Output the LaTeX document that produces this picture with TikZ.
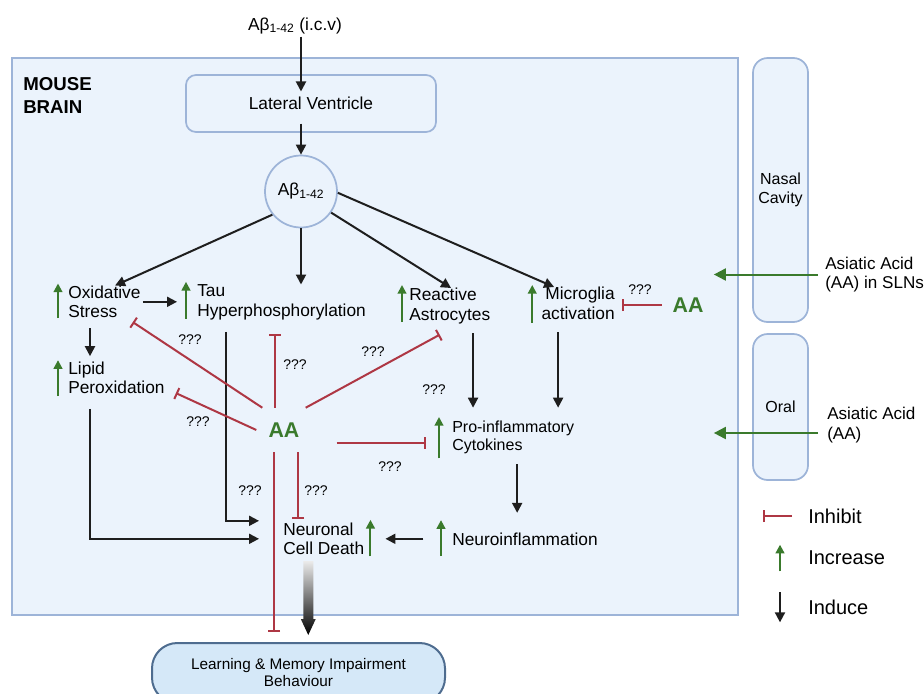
\documentclass[tikz,border=0pt]{standalone}
\usepackage{fontspec}
\setmainfont{Liberation Sans}
\usetikzlibrary{arrows.meta}

\definecolor{inkc}{HTML}{1E1E1E}
\definecolor{inhc}{HTML}{AE3744}
\definecolor{incc}{HTML}{3A7A2C}
\definecolor{brainfill}{HTML}{EBF3FC}
\definecolor{brainline}{HTML}{9DB4D8}
\definecolor{lmfill}{HTML}{D5E8F8}
\definecolor{lmline}{HTML}{4E6C8F}

\tikzset{
  lbl/.style={inner sep=0pt, align=left, font=\fontsize{13}{14.5}\selectfont},
  qq/.style={inner sep=0pt, font=\fontsize{10.5}{12}\selectfont},
  legtx/.style={anchor=west, inner sep=0pt, font=\fontsize{15}{17}\selectfont},
  ind/.style={draw=inkc, line width=1.5pt, -{Triangle[width=7.5pt,length=7.5pt]}},
  inh/.style={draw=inhc, line width=1.5pt, -{Bar[width=9pt,line width=1.5pt]}},
  incr/.style={draw=incc, line width=1.5pt, -{Triangle[width=6.5pt,length=6.5pt]}},
  feed/.style={draw=incc, line width=1.5pt, -{Triangle[width=9pt,length=9pt]}},
  softbox/.style={draw=brainline, fill=brainfill, line width=1.3pt, inner sep=0pt},
  aatx/.style={text=incc, font=\fontsize{16}{18}\selectfont\bfseries},
}

\begin{document}
\begin{tikzpicture}[x=0.75pt,y=0.75pt,yscale=-1,xscale=1]
        \useasboundingbox (0,0) rectangle (924,693);
        \clip (0,0) rectangle (924,693);

        %Shape: Rectangle [brain]
        \node[softbox, minimum width=544.5pt, minimum height=417.75pt] (brain) at (375,336.5) {};
        %Shape: Rounded Rect [side boxes]
        \node[softbox, rounded corners=11pt, minimum width=41.25pt, minimum height=198pt, align=center, font=\fontsize{12}{14}\selectfont] (nasal) at (780.5,190) {Nasal\\Cavity};
        \node[softbox, rounded corners=11pt, minimum width=41.25pt, minimum height=109.5pt, font=\fontsize{12}{14}\selectfont] (oral) at (780.5,407) {Oral};
        \node[softbox, rounded corners=7.5pt, minimum width=187.5pt, minimum height=42.75pt, font=\fontsize{13}{14.5}\selectfont] (lv) at (311,103.5) {Lateral Ventricle};
        \node[softbox, circle, minimum size=54pt, font=\fontsize{13}{14.5}\selectfont] (abeta) at (301,191.5) {Aβ\textsubscript{1-42}};
        \node[draw=lmline, fill=lmfill, line width=1.5pt, rounded corners=19pt, minimum width=219.75pt, minimum height=45pt, align=center, font=\fontsize{11.5}{12.75}\selectfont] (lm) at (298.5,673) {Learning \& Memory Impairment\\Behaviour};

        % Text Node
        \node[anchor=base, inner sep=2pt, font=\fontsize{13}{14.5}\selectfont] (inj) at (295,30) {Aβ\textsubscript{1-42} (i.c.v)};
        % Text Node
        \node[anchor=north west, inner sep=0pt, align=left, font=\fontsize{14}{17.25}\selectfont\bfseries] (title) at (23,77) {MOUSE\\BRAIN};
        % Text Node
        \node[lbl, anchor=north west] (ox) at (68,285.5) {Oxidative\\Stress};
        % Text Node
        \node[lbl, anchor=north west] (tau) at (197,284.5) {Tau\\Hyperphosphorylation};
        % Text Node
        \node[lbl, anchor=north west] (ra) at (409,288) {Reactive\\Astrocytes};
        % Text Node
        \node[lbl, anchor=north east, align=right] (mg) at (615,287) {Microglia\\activation};
        % Text Node
        \node[lbl, anchor=north west] (lp) at (68,361.5) {Lipid\\Peroxidation};
        % Text Node
        \node[lbl, anchor=north west, font=\fontsize{12}{13.5}\selectfont] (cy) at (452,421) {Pro-inflammatory\\Cytokines};
        % Text Node
        \node[lbl, anchor=base west] (ni) at (452,545) {Neuroinflammation};
        % Text Node
        \node[lbl, anchor=north west] (nd) at (283,522.5) {Neuronal\\Cell Death};
        % Text Node
        \node[aatx, inner xsep=9pt, inner ysep=11pt] (aa) at (284,430) {AA};
        % Text Node
        \node[aatx, inner sep=3pt] (aam) at (688,305) {AA};
        % Text Node
        \node[lbl, anchor=west, font=\fontsize{12.8}{14.5}\selectfont] (nastx) at (825,274.5) {Asiatic Acid\\(AA) in SLNs};
        % Text Node
        \node[lbl, anchor=west, font=\fontsize{12.8}{14.5}\selectfont] (oraltx) at (827,425) {Asiatic Acid\\(AA)};

        % Text Node
        \node[qq] (qox) at (190,340) {???};
        \node[qq] (qtau) at (295,365) {???};
        \node[qq] (qra) at (373,352) {???};
        \node[qq] (qra2) at (434,390) {???};
        \node[qq] (qlp) at (198,422) {???};
        \node[qq] (qcy) at (390,467) {???};
        \node[qq] (qlm) at (250,491) {???};
        \node[qq] (qnd) at (316,491) {???};
        \node[qq] (qmg) at (640,290) {???};

        %Straight Lines
        \draw[ind] (inj.south -| abeta) -- ([yshift=13pt]lv.north -| abeta);
        \draw[ind] ([yshift=-7pt]lv.south -| abeta) -- (abeta);
        \draw[ind] (abeta.219) -- ([xshift=8pt]ox.north);
        \draw[ind] (abeta) -- (abeta |- tau.north);
        \draw[ind] (abeta.-35) -- ([xshift=1pt]ra.north);
        \draw[ind] (abeta.-2) -- ([xshift=-18pt]mg.north);
        \draw[ind] ([xshift=1.5pt]ox.east) -- ([xshift=-15pt]ox.east -| tau.west);
        \draw[ind] ([xshift=16.5pt,yshift=7.5pt]ox.south west) -- ([xshift=16.5pt,yshift=-4pt]lp.north west);
        \draw[ind] ([xshift=21.75pt,yshift=9pt]tau.south west) |- ([xshift=-18pt,yshift=-13.5pt]nd.west);
        \draw[ind] ([xshift=16.5pt,yshift=11pt]lp.south west) |- ([xshift=-18pt]nd.west);
        \draw[ind] ([xshift=17.5pt,yshift=7pt]ra.south) -- ([xshift=17.5pt,yshift=-10pt]ra.south |- cy.north);
        \draw[ind] ([xshift=-15pt,yshift=9.5pt]mg.south) -- ([xshift=-15pt,yshift=-10pt]mg.south |- cy.north);
        \draw[ind] ([xshift=3pt,yshift=7.5pt]cy.south) -- ([xshift=3pt,yshift=-14.5pt]cy.south |- ni.north);
        \draw[ind] ([xshift=-21.5pt]ni.west) -- ([xshift=15.75pt]ni.west -| nd.east);

        %Straight Lines [inhibit]
        \draw[inh] ([xshift=4.5pt]aa.north west) -- ([xshift=-6pt,yshift=3pt]ox.south east);
        \draw[inh] (aa.west) -- ([xshift=8.25pt,yshift=-0.75pt]lp.south east);
        \draw[inh] ([xshift=-6.75pt]aa.north) -- ([xshift=-6.75pt,yshift=10.75pt]aa.north |- tau.south);
        \draw[inh] ([xshift=-4.5pt]aa.north east) -- ([xshift=-7.5pt,yshift=8pt]ra.south);
        \coordinate (aacy) at ([xshift=18.75pt,yshift=9.75pt]aa.east);
        \draw[inh] (aacy) -- ([xshift=-19.5pt]aacy -| cy.west);
        \draw[inh] ([xshift=10.5pt]aa.south) -- ([xshift=10.5pt,yshift=-2.6pt]aa.south |- nd.north);
        \draw[inh] ([xshift=-7.5pt]aa.south) -- ([xshift=-7.5pt,yshift=-7.5pt]aa.south |- lm.north);
        \draw[inh] ([xshift=-5pt]aam.west) -- ([xshift=5.25pt]aam.west -| mg.east);

        %Straight Lines [increase]
        \draw[incr] ([xshift=-7.5pt]ox.south west) -- ([xshift=-7.5pt,yshift=-1.5pt]ox.north west);
        \draw[incr] ([xshift=-8.25pt,yshift=-1pt]tau.south west) -- ([xshift=-8.25pt,yshift=-2pt]tau.north west);
        \draw[incr] ([xshift=-5.25pt,yshift=-1.5pt]ra.south west) -- ([xshift=-5.25pt,yshift=-2.25pt]ra.north west);
        \draw[incr] ([xshift=-6.75pt,yshift=2.25pt]mg.south west) -- ([xshift=-6.75pt,yshift=-1.5pt]mg.north west);
        \draw[incr] ([xshift=-7.5pt,yshift=1.5pt]lp.south west) -- ([xshift=-7.5pt,yshift=-1pt]lp.north west);
        \draw[incr] ([xshift=-9.75pt,yshift=3pt]cy.south west) -- ([xshift=-9.75pt,yshift=-3pt]cy.north west);
        \draw[incr] ([xshift=-8.25pt,yshift=13pt]ni.west) -- ([xshift=-8.25pt,yshift=-14pt]ni.west);
        \draw[incr] ([xshift=4.5pt,yshift=1pt]nd.south east) -- ([xshift=4.5pt,yshift=-2pt]nd.north east);

        %Straight Lines [routes]
        \draw[feed] ([xshift=-5.25pt]nastx.west) -- ([xshift=-18.75pt]nastx.west -| brain.east);
        \draw[feed] ([xshift=-6.75pt,yshift=6pt]oraltx.west) -- ([xshift=-18.75pt,yshift=6pt]oraltx.west -| brain.east);

        %Shape: Arrow [gradient]
        \coordinate (gtop) at ([xshift=-11.6pt,yshift=4.5pt]nd.south);
        \coordinate (gtip) at ([yshift=-5.25pt]gtop |- lm.north);
        \shade[top color=black!8, middle color=black!85, bottom color=black] ([xshift=-3.75pt]gtop) -- ([xshift=-3.75pt,yshift=-12pt]gtip) -- ([xshift=-5.6pt,yshift=-12pt]gtip) -- (gtip) -- ([xshift=5.6pt,yshift=-12pt]gtip) -- ([xshift=3.75pt,yshift=-12pt]gtip) -- ([xshift=3.75pt]gtop) -- cycle;

        % Legend
        \node[legtx] (linh) at (808,516) {Inhibit};
        \node[legtx] (linc) at (808,558) {Increase};
        \node[legtx] (lind) at (808,607) {Induce};
        \draw[inh] ([xshift=-12pt]linh.west) -- ([xshift=-33.75pt]linh.west);
        \draw[incr] ([xshift=-21pt,yshift=10pt]linc.west) -- ([xshift=-21pt,yshift=-10pt]linc.west);
        \draw[ind] ([xshift=-21pt,yshift=-11pt]lind.west) -- ([xshift=-21pt,yshift=11.5pt]lind.west);

\end{tikzpicture}
\end{document}
